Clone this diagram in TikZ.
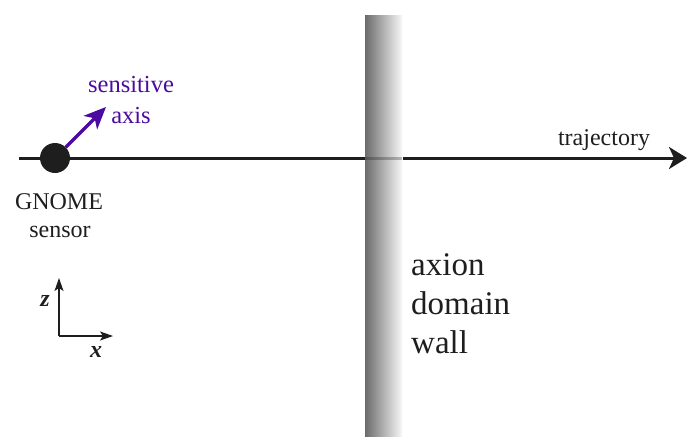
\documentclass[tikz,border=0pt]{standalone}
\usepackage{fontspec}
\setmainfont{Liberation Serif}
\usetikzlibrary{arrows.meta,fadings}
\definecolor{axispurple}{RGB}{75,10,160}
\definecolor{linegray}{RGB}{30,30,30}
\tikzset{
  lbl/.style={inner sep=0pt, anchor=base, font=\fontsize{24}{28}\selectfont, text=linegray},
  biglbl/.style={inner sep=0pt, anchor=base west, font=\fontsize{33}{39}\selectfont, text=linegray},
  purplelbl/.style={inner sep=0pt, anchor=base, font=\fontsize{24.5}{28}\selectfont, text=axispurple},
  axlbl/.style={inner sep=0pt, font=\bfseries\itshape\fontsize{24}{28}\selectfont, text=linegray},
  mainline/.style={line width=3pt, draw=linegray},
  smallarrow/.style={line width=1.5pt, draw=linegray, -{Stealth[length=13pt,width=9pt,inset=3pt]}},
}
\begin{document}
\begin{tikzpicture}[x=1pt,y=-1pt]
\useasboundingbox (0,0) rectangle (687,436);
% wall
\shade[left color=black!58, right color=black!3] (365,16) rectangle (402,436);
% main line
\coordinate (lstart) at (19,158);
\coordinate (wl) at (365,158);
\coordinate (wr) at (402,158);
\coordinate (lend) at (687,158);
\draw[mainline] (lstart) -- (wl);
\draw[mainline, draw opacity=0.3] (wl) -- (wr);
\draw[mainline, -{Stealth[length=18pt,width=22pt,inset=5pt]}] (wr) ++(1,0) -- (lend);
% sensor
\node[circle, fill=linegray, minimum size=30pt, inner sep=0pt] (sensor) at (55,158) {};
\coordinate (axtip) at (106,107);
\draw[line width=3.2pt, draw=axispurple, -{Stealth[length=22pt,width=19pt,inset=6pt]}] (sensor.45) -- (axtip);
\node[purplelbl] (sens) at (131,92) {sensitive};
\node[purplelbl] (axs) at (131,123) {axis};
\node[lbl] (gnome) at (59,209) {GNOME};
\node[lbl] (sensorlbl) at (60,237) {sensor};
\node[lbl] (traj) at (604,145) {trajectory};
% wall label
\node[biglbl] (w1) at (411,275) {axion};
\node[biglbl] (w2) at (411,314) {domain};
\node[biglbl] (w3) at (411,353) {wall};
% axes
\coordinate (o) at (59,336);
\coordinate (zt) at (59,278);
\coordinate (xt) at (113,336);
\draw[smallarrow] (o) -- (zt);
\draw[smallarrow] (o) -- (xt);
\node[axlbl] (zl) at (45,301) {z};
\node[axlbl] (xl) at (96,352) {x};
\end{tikzpicture}
\end{document}
